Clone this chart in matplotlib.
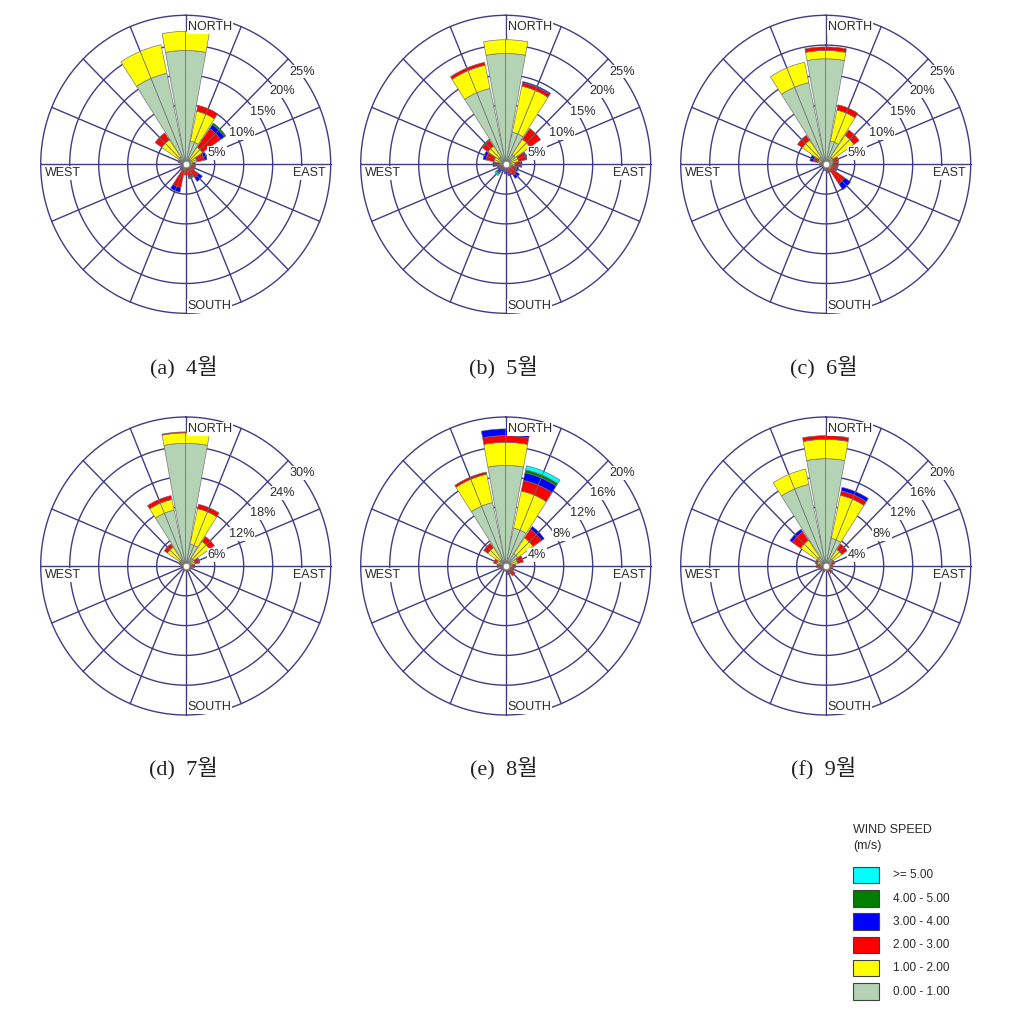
import numpy as np
import matplotlib
matplotlib.use("Agg")
import matplotlib.pyplot as plt
from matplotlib.patches import Rectangle

# ---------------- data ----------------
DIRECTIONS = ["N", "NNE", "NE", "ENE", "E", "ESE", "SE", "SSE",
              "S", "SSW", "SW", "WSW", "W", "WNW", "NW", "NNW"]
SPEED_LABELS = ["0.00 - 1.00", "1.00 - 2.00", "2.00 - 3.00",
                "3.00 - 4.00", "4.00 - 5.00", ">= 5.00"]
SPEED_COLORS = ["#b4d2b4", "#ffff00", "#ff0000", "#0000ff", "#008000", "#00ffff"]
PANEL_TITLES = ["(a)  4월", "(b)  5월", "(c)  6월", "(d)  7월", "(e)  8월", "(f)  9월"]
RING_STEPS = [5, 5, 5, 6, 4, 4]   # % per ring

# frequency (%) per direction: [0-1, 1-2, 2-3, 3-4, 4-5, >=5 m/s]
APR = [[19.1, 3.2, 0, 0, 0, 0], [4.0, 5.1, 1.0, 0, 0, 0], [1.0, 2.5, 3.8, 0.8, 0.3, 0],
       [0.8, 1.2, 1.3, 0.5, 0, 0], [0.5, 0.6, 0.6, 0, 0, 0], [0.4, 0.5, 0.6, 0.2, 0, 0],
       [0.4, 0.5, 1.8, 0.8, 0, 0], [0.3, 0.4, 1.4, 0.2, 0.2, 0], [0.4, 0.4, 1.0, 0, 0, 0],
       [0.4, 0.5, 3.1, 0.8, 0, 0], [0.3, 0.3, 0.6, 0, 0, 0], [0.2, 0.3, 0.3, 0, 0, 0],
       [0.2, 0.3, 0.3, 0, 0, 0], [0.4, 0.5, 0.4, 0, 0, 0], [1.5, 3.5, 1.4, 0, 0, 0],
       [15.6, 4.9, 0, 0, 0, 0]]
MAY = [[18.6, 2.3, 0, 0, 0, 0], [5.5, 7.9, 0.6, 0.2, 0, 0], [2.0, 3.1, 2.2, 0, 0, 0],
       [0.8, 1.5, 1.3, 0.2, 0, 0], [0.6, 1.0, 1.0, 0.2, 0, 0], [0.5, 0.6, 0.9, 0.3, 0, 0],
       [0.5, 0.5, 1.3, 0.6, 0, 0], [0.4, 0.4, 0.9, 0.3, 0, 0], [0.3, 0.3, 0.6, 0.4, 0, 0],
       [0.3, 0.3, 0.4, 0.3, 0, 0], [0.3, 0.3, 0.5, 0.6, 0.3, 0.3], [0.3, 0.4, 0.5, 0.3, 0, 0],
       [0.4, 0.6, 0.9, 0.3, 0, 0], [0.8, 1.3, 1.4, 0.5, 0, 0], [1.5, 2.2, 1.2, 0.1, 0, 0],
       [13.0, 4.0, 0.5, 0, 0, 0]]
JUN = [[17.7, 1.4, 0.6, 0, 0, 0], [4.0, 5.3, 0.9, 0, 0, 0], [1.5, 4.4, 1.1, 0, 0, 0],
       [0.6, 0.8, 0.9, 0, 0, 0], [0.5, 0.7, 1.0, 0, 0, 0], [0.5, 0.6, 0.9, 0.1, 0, 0],
       [0.5, 0.6, 2.9, 1.2, 0, 0], [0.3, 0.4, 0.8, 0, 0, 0], [0.3, 0.3, 0.2, 0.3, 0, 0],
       [0.2, 0.3, 0.3, 0, 0, 0], [0.2, 0.2, 0.1, 0, 0, 0], [0.2, 0.2, 0.1, 0, 0, 0],
       [0.3, 0.4, 0.4, 0, 0, 0], [0.6, 0.8, 0.8, 0.6, 0, 0], [1.5, 3.4, 1.0, 0, 0, 0],
       [14.0, 3.5, 0, 0, 0, 0]]
JUL = [[24.7, 2.1, 0.2, 0, 0, 0], [4.5, 7.3, 0.9, 0, 0, 0], [2.0, 4.0, 1.2, 0, 0, 0],
       [0.8, 1.2, 0.8, 0.2, 0, 0], [0.5, 0.6, 0.6, 0.2, 0, 0], [0.3, 0.4, 0.5, 0, 0, 0],
       [0.3, 0.4, 0.5, 0, 0, 0], [0.2, 0.3, 0.4, 0, 0, 0], [0.2, 0.3, 0.5, 0, 0, 0],
       [0.2, 0.3, 0.5, 0, 0, 0], [0.1, 0.2, 0.2, 0, 0, 0], [0.1, 0.2, 0.2, 0, 0, 0],
       [0.3, 0.3, 0.5, 0, 0, 0], [0.4, 0.7, 0.3, 0, 0, 0], [1.5, 3.1, 0.8, 0, 0, 0],
       [11.5, 2.2, 0.8, 0, 0, 0]]
AUG = [[13.5, 3.1, 0.9, 0.9, 0, 0], [5.2, 5.1, 1.45, 1.05, 0.4, 0.55], [2.0, 2.6, 1.4, 0.45, 0, 0],
       [0.7, 1.0, 0.8, 0, 0, 0], [0.4, 0.5, 0.5, 0, 0, 0], [0.3, 0.4, 0.5, 0, 0, 0],
       [0.3, 0.4, 0.9, 0, 0, 0], [0.3, 0.3, 0.6, 0, 0, 0], [0.2, 0.2, 0.3, 0, 0, 0],
       [0.1, 0.2, 0.2, 0, 0, 0], [0.1, 0.1, 0.2, 0, 0, 0], [0.2, 0.2, 0.3, 0, 0, 0],
       [0.3, 0.3, 0.6, 0, 0, 0], [0.5, 0.8, 0.4, 0, 0, 0], [1.0, 2.0, 0.7, 0, 0, 0],
       [8.7, 3.9, 0.3, 0, 0, 0]]
SEP = [[14.4, 2.6, 0.5, 0, 0, 0], [3.8, 5.9, 0.6, 0.5, 0, 0], [1.2, 1.5, 0.9, 0, 0, 0],
       [0.4, 0.5, 0.4, 0, 0, 0], [0.3, 0.4, 0.3, 0, 0, 0], [0.2, 0.3, 0.3, 0, 0, 0],
       [0.3, 0.3, 0.6, 0, 0, 0], [0.2, 0.2, 0.3, 0, 0, 0], [0.1, 0.2, 0.3, 0, 0, 0],
       [0.2, 0.2, 0.4, 0, 0, 0], [0.1, 0.2, 0.3, 0, 0, 0], [0.2, 0.3, 0.5, 0, 0, 0],
       [0.3, 0.4, 0.6, 0, 0, 0], [0.5, 0.7, 0.3, 0, 0, 0], [1.5, 2.7, 1.4, 0.4, 0, 0],
       [11.2, 2.1, 0, 0, 0, 0]]
MONTHS = [APR, MAY, JUN, JUL, AUG, SEP]

# ---------------- layout ----------------
W, H = 1027, 1019
GRID = "#3f3d85"
TXT = "#2a2a2a"
SANS = ["Liberation Sans", "DejaVu Sans"]
CENTERS = [(185.7, 164.3), (505.7, 164.3), (825.7, 164.3),
           (185.7, 566.0), (505.7, 566.0), (825.7, 566.0)]
RX, RY = 145.0, 149.0
RING_PX = 29.0
LABEL_OFFS = [(1.07, 0.38), (1.93, 1.09), (2.66, 1.82), (3.34, 2.53), (4.02, 3.20)]

fig = plt.figure(figsize=(W / 100, H / 100), dpi=100)
fig.patch.set_facecolor("white")

theta = np.deg2rad(np.arange(len(DIRECTIONS)) * 22.5)
bar_w = np.deg2rad(21.0)
circ = np.linspace(0, 2 * np.pi, 721)

for month, step, (cx, cy) in zip(MONTHS, RING_STEPS, CENTERS):
    data = np.array(month, dtype=float)
    ax = fig.add_axes([(cx - RX) / W, 1 - (cy + RY) / H, 2 * RX / W, 2 * RY / H],
                      projection="polar")
    ax.set_theta_zero_location("N")
    ax.set_theta_direction(-1)
    rmax = 5 * step
    ax.set_ylim(0, rmax)
    ax.set_aspect("auto")
    ax.axis("off")
    for k in range(1, 6):
        ax.plot(circ, np.full_like(circ, k * step), color=GRID, lw=1.0,
                zorder=1, clip_on=False)
    for t in theta:
        ax.plot([t, t], [0, rmax], color=GRID, lw=1.0, zorder=1, clip_on=False)
    bottom = np.zeros(len(DIRECTIONS))
    for k in range(data.shape[1]):
        vals = data[:, k]
        m = vals > 0
        for off in (-bar_w / 4, bar_w / 4):
            ax.bar(theta[m] + off, vals[m], width=bar_w / 2, bottom=bottom[m],
                   color=SPEED_COLORS[k], edgecolor="#6e6e6e", linewidth=0.45,
                   zorder=2, clip_on=False)
        bottom += vals
    ax.scatter([0], [0], s=22, c="white", edgecolors="#888888", linewidths=0.6,
               zorder=6, clip_on=False)

# overlay for labels (pixel coordinates)
ov = fig.add_axes([0, 0, 1, 1])
ov.set_xlim(0, W)
ov.set_ylim(H, 0)
ov.axis("off")
ov.patch.set_alpha(0)

wbox = dict(facecolor="white", edgecolor="none", pad=0.6)
for step, title, (cx, cy) in zip(RING_STEPS, PANEL_TITLES, CENTERS):
    for k, (ox, oy) in enumerate(LABEL_OFFS, start=1):
        ov.text(cx + ox * RING_PX, cy - oy * RING_PX, f"{k * step}%", ha="center",
                va="center", fontsize=9.2, family=SANS, color=TXT, bbox=wbox)
    ov.text(cx + 2, cy - 137, "NORTH", ha="left", va="center", fontsize=9,
            family=SANS, color=TXT, bbox=wbox)
    ov.text(cx + 2, cy + 141.5, "SOUTH", ha="left", va="center", fontsize=9,
            family=SANS, color=TXT, bbox=wbox)
    ov.text(cx - 140.7, cy + 9, "WEST", ha="left", va="center", fontsize=9,
            family=SANS, color=TXT, bbox=wbox)
    ov.text(cx + 140.3, cy + 9, "EAST", ha="right", va="center", fontsize=9,
            family=SANS, color=TXT, bbox=wbox)
    ov.text(cx - 2, cy + 202.5, title, ha="center", va="center", fontsize=16,
            family=["Liberation Serif", "Noto Sans CJK KR"], color="#222222")

# legend
ov.text(853, 830, "WIND SPEED", ha="left", va="center", fontsize=9, family=SANS, color=TXT)
ov.text(853, 846.5, "(m/s)", ha="left", va="center", fontsize=9, family=SANS, color=TXT)
for i, k in enumerate(range(len(SPEED_LABELS) - 1, -1, -1)):
    y0 = 866.7 + i * 23.3
    ov.add_patch(Rectangle((853.3, y0), 26, 16.5, facecolor=SPEED_COLORS[k],
                           edgecolor="#404040", lw=0.8))
    ov.text(892.7, y0 + 8.5, SPEED_LABELS[k], ha="left", va="center", fontsize=8.5,
            family=SANS, color=TXT)

fig.savefig("out.png", dpi=100, facecolor="white")
